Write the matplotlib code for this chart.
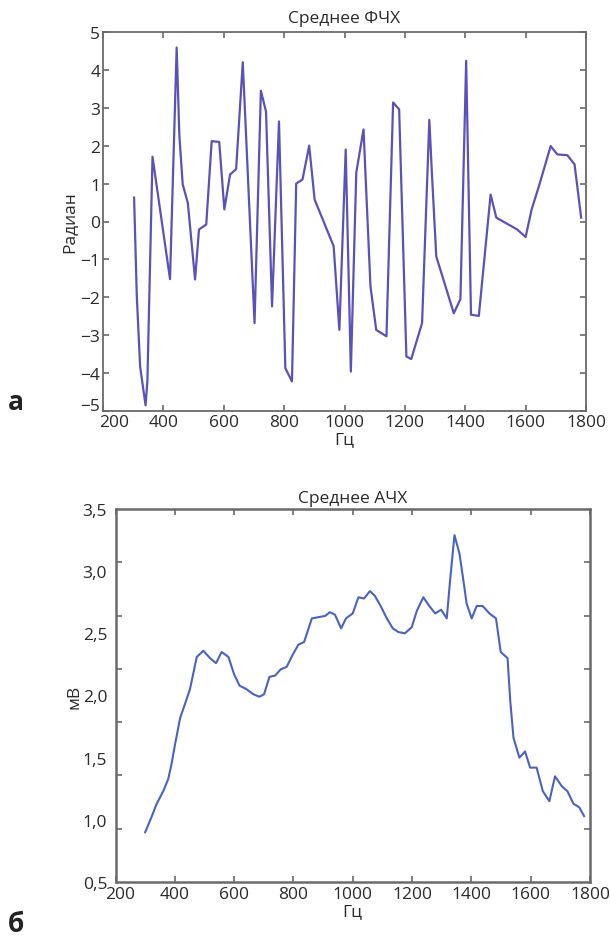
import numpy as np
import matplotlib
matplotlib.use("Agg")
import matplotlib.pyplot as plt
import matplotlib.transforms as mtransforms
from matplotlib.ticker import FixedLocator, NullFormatter

plt.rcParams['font.family'] = ['Open Sans', 'DejaVu Sans']

# ---- Data: mean phase response (top) ----
phase_hz = [303, 312, 323, 341, 347, 364, 422, 444, 453, 464, 481, 505, 518, 542,
            560, 585, 602, 621, 641, 663, 702, 723, 740, 760, 783, 804, 826, 840,
            861, 883, 901, 964, 983, 1004, 1021, 1039, 1063, 1086, 1105, 1139, 1161,
            1181, 1205, 1221, 1257, 1281, 1290, 1304, 1362, 1384, 1403, 1419, 1445,
            1484, 1503, 1572, 1600, 1620, 1644, 1683, 1705, 1738, 1762, 1784]
phase_rad = [0.63, -1.98, -3.83, -4.85, -4.22, 1.71, -1.52, 4.59, 2.26, 0.98, 0.49, -1.53,
             -0.21, -0.08, 2.12, 2.10, 0.32, 1.24, 1.38, 4.20, -2.68, 3.45, 2.90, -2.24,
             2.64, -3.87, -4.22, 1.00, 1.11, 2.00, 0.58, -0.65, -2.86, 1.90, -3.96, 1.29,
             2.43, -1.71, -2.86, -3.03, 3.14, 2.96, -3.56, -3.63, -2.68, 2.68, 1.20, -0.92,
             -2.42, -2.05, 4.24, -2.46, -2.49, 0.71, 0.10, -0.21, -0.41, 0.32, 0.93, 1.99,
             1.77, 1.75, 1.51, 0.10]

# ---- Data: mean amplitude response (bottom) ----
amp_hz = [300, 316, 339, 361, 378, 389, 401, 418, 434, 451, 474, 496, 519, 539, 558,
          581, 600, 618, 642, 665, 685, 701, 719, 738, 757, 777, 798, 817, 836, 862,
          884, 907, 923, 940, 961, 977, 1000, 1019, 1038, 1058, 1075, 1094, 1115, 1135,
          1154, 1176, 1199, 1216, 1238, 1258, 1278, 1298, 1317, 1328, 1343, 1360, 1371,
          1384, 1401, 1418, 1438, 1461, 1483, 1499, 1522, 1531, 1542, 1562, 1581, 1598,
          1620, 1641, 1663, 1682, 1705, 1724, 1744, 1764, 1780]
amp_mv = [0.90, 0.99, 1.13, 1.23, 1.33, 1.45, 1.61, 1.82, 1.93, 2.05, 2.31, 2.36, 2.30,
          2.26, 2.35, 2.31, 2.17, 2.08, 2.05, 2.01, 1.99, 2.01, 2.15, 2.16, 2.21, 2.23,
          2.33, 2.41, 2.43, 2.62, 2.63, 2.64, 2.67, 2.65, 2.54, 2.62, 2.66, 2.79, 2.78,
          2.84, 2.80, 2.72, 2.62, 2.54, 2.51, 2.50, 2.55, 2.68, 2.79, 2.72, 2.66, 2.69,
          2.62, 2.92, 3.29, 3.14, 2.96, 2.74, 2.62, 2.72, 2.72, 2.66, 2.62, 2.35, 2.30,
          1.96, 1.66, 1.50, 1.55, 1.42, 1.42, 1.23, 1.15, 1.35, 1.27, 1.23, 1.13, 1.10, 1.03]

x_ticks = [200, 400, 600, 800, 1000, 1200, 1400, 1600, 1800]
phase_yticks = [-5, -4, -3, -2, -1, 0, 1, 2, 3, 4, 5]
amp_ylabels = ["0,5", "1,0", "1,5", "2,0", "2,5", "3,0", "3,5"]
amp_yvals = [0.5, 1.0, 1.5, 2.0, 2.5, 3.0, 3.5]

title_top = "Среднее ФЧХ"
title_bot = "Среднее АЧХ"
ylabel_top = "Радиан"
ylabel_bot = "мВ"
xlabel = "Гц"

W, H = 610, 937
fig = plt.figure(figsize=(W / 100, H / 100), dpi=100)
fig.patch.set_facecolor('white')

txt_color = '#2a2a2a'
spine_color = '#6a6a6a'
fs = 12.5

def style(ax, lw):
    for s in ax.spines.values():
        s.set_color(spine_color)
        s.set_linewidth(lw)
    ax.tick_params(which='both', direction='in', top=True, right=True,
                   colors=spine_color, labelcolor=txt_color, labelsize=fs)

# Top axes
ax1 = fig.add_axes([103 / W, 1 - 412 / H, 483 / W, 379 / H])
ax1.plot(phase_hz, phase_rad, color='#5a52b8', lw=1.6)
ax1.set_xlim(200, 1800)
ax1.set_ylim(-5, 5)
ax1.set_xticks(x_ticks)
ax1.set_yticks(phase_yticks)
style(ax1, 1.3)
ax1.tick_params(which='major', length=4, width=1.2, pad=2)
ax1.set_title(title_top, fontsize=fs, color=txt_color, pad=7)
ax1.set_ylabel(ylabel_top, fontsize=fs, color=txt_color, labelpad=2)
ax1.set_xlabel(xlabel, fontsize=fs, color=txt_color, labelpad=1)

# Bottom axes
ax2 = fig.add_axes([115.5 / W, 1 - 883 / H, 474.5 / W, 373 / H])
ax2.plot(amp_hz, amp_mv, color='#4a62c2', lw=1.5)
ax2.set_xlim(200, 1800)
ax2.set_ylim(0.5, 3.5)
ax2.set_xticks(x_ticks)
ax2.set_yticks(amp_yvals)
ax2.set_yticklabels(amp_ylabels)
ax2.yaxis.set_minor_locator(FixedLocator(np.linspace(0.5, 3.5, 8)))
ax2.yaxis.set_minor_formatter(NullFormatter())
style(ax2, 1.8)
ax2.tick_params(axis='x', which='major', length=4, width=1.2, pad=3)
ax2.tick_params(axis='y', which='major', length=0, pad=6)
ax2.tick_params(axis='y', which='minor', length=4, width=1.2)
ax2.set_title(title_bot, fontsize=fs, color=txt_color, pad=5)
ax2.set_ylabel(ylabel_bot, fontsize=fs, color=txt_color, labelpad=0)
ax2.set_xlabel(xlabel, fontsize=fs, color=txt_color, labelpad=1)

# corner labels nudged apart as in the reference
fig.canvas.draw()
def nudge(label, dx, dy):
    label.set_transform(label.get_transform() +
                        mtransforms.ScaledTranslation(dx / 72, dy / 72, fig.dpi_scale_trans))
nudge(ax1.get_xticklabels()[0], 8, 0)
nudge(ax1.get_yticklabels()[0], 0, 5)
nudge(ax2.get_xticklabels()[0], 3, 0)

# Panel letters
fig.text(16 / W, 1 - 403 / H, "а", fontsize=19, fontweight='bold', color='#222222',
         ha='center', va='center')
fig.text(16 / W, 1 - 925 / H, "б", fontsize=19, fontweight='bold', color='#222222',
         ha='center', va='center')

fig.savefig("out.png", dpi=100, facecolor='white')
